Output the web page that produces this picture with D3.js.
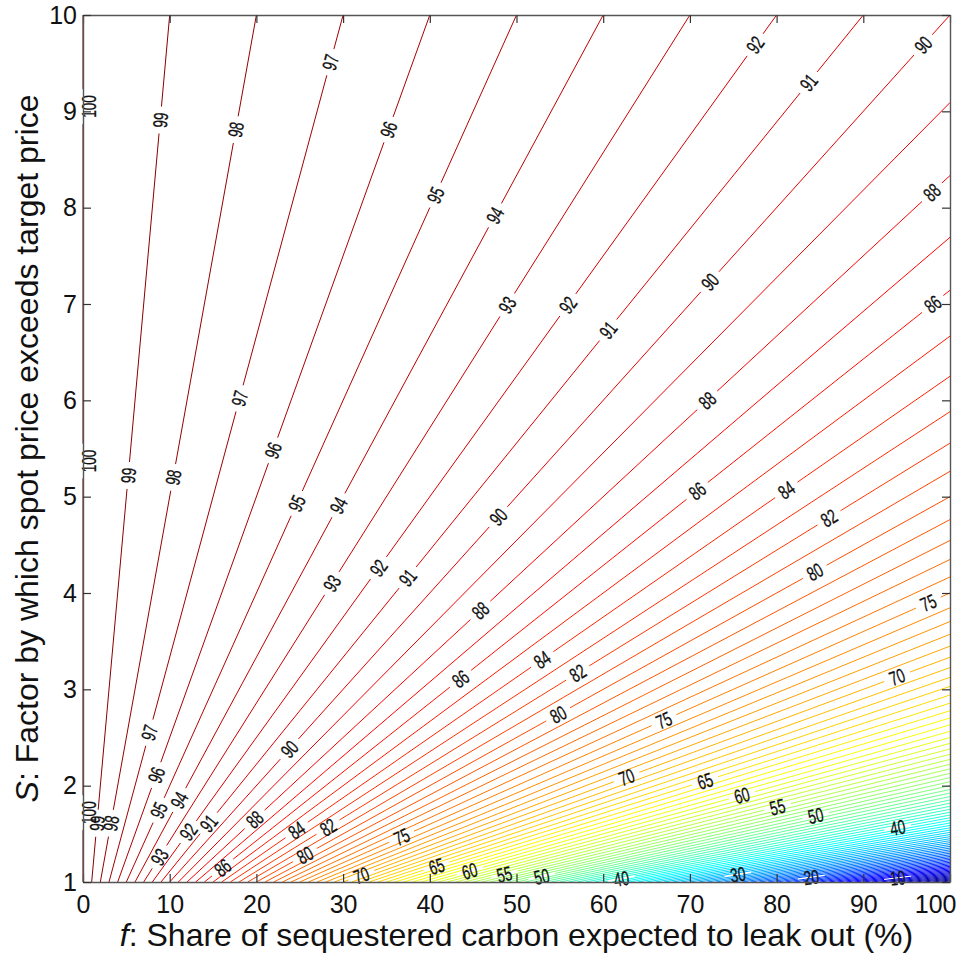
<!doctype html>
<html>
<head>
<meta charset="utf-8">
<script src="https://cdn.jsdelivr.net/npm/d3@7"></script>
<style>
body { margin: 0; background: #fff; }
.tick text { font-family: "Liberation Sans", Arial, sans-serif; font-size: 25px; fill: #111; }
.clabel { font-family: "Liberation Sans", Arial, sans-serif; font-size: 20px; fill: #111; stroke: #111; stroke-width: 0.3px; }
</style>
</head>
<body>
<svg width="961" height="957"></svg>
<script>
// contour levels: every integer from 1 to 100
var levels = d3.range(1, 101);

var xTicks = [0, 10, 20, 30, 40, 50, 60, 70, 80, 90, 100];
var yTicks = [1, 2, 3, 4, 5, 6, 7, 8, 9, 10];

// inline contour labels: [level, S where the label sits]
var contourLabels = [
  [100, 9.05], [100, 5.37], [100, 1.72],
  [99, 8.91], [99, 5.22], [99, 1.61],
  [98, 8.81], [98, 5.20], [98, 1.61],
  [97, 9.51], [97, 6.02], [97, 2.55],
  [96, 8.81], [96, 5.48], [96, 2.11],
  [95, 8.13], [95, 4.93], [95, 1.745],
  [94, 7.92], [94, 4.91], [94, 1.85],
  [93, 6.99], [93, 4.10], [93, 1.26],
  [92, 9.69], [92, 6.99], [92, 4.26], [92, 1.52],
  [91, 9.30], [91, 6.73], [91, 4.16], [91, 1.61],
  [90, 9.69], [90, 7.23], [90, 4.79], [90, 2.38],
  [88, 8.16], [88, 6.00], [88, 3.82], [88, 1.65],
  [86, 7.00], [86, 5.06], [86, 3.11], [86, 1.15],
  [84, 5.07], [84, 3.31], [84, 1.54],
  [82, 4.78], [82, 3.17], [82, 1.57],
  [80, 4.22], [80, 2.74], [80, 1.28],
  [75, 3.90], [75, 2.68], [75, 1.47],
  [70, 3.13], [70, 2.09], [70, 1.07],
  [65, 2.05], [65, 1.165],
  [60, 1.90], [60, 1.115],
  [55, 1.78], [55, 1.08],
  [50, 1.69], [50, 1.058],
  [40, 1.566], [40, 1.035],
  [30, 1.079],
  [20, 1.05],
  [10, 1.044]
];

var svg = d3.select("svg"),
    margin = {left: 83, top: 15},
    width = 867,
    height = 867;

var xScale = d3.scaleLinear().domain([0, 100]).range([0, width]),
    yScale = d3.scaleLinear().domain([1, 10]).range([height, 0]);

// matlab jet
var jet = d3.scaleLinear()
    .domain([0, 12.5, 37.5, 62.5, 87.5, 100])
    .range(["#00007f", "#0000ff", "#00ffff", "#ffff00", "#ff0000", "#7f0000"]);

var g = svg.append("g")
    .attr("transform", "translate(" + margin.left + "," + margin.top + ")");

var lineG = g.append("g");
var labelG = g.append("g");

var sx = 0.68, charW = 20 * 0.556 * sx, pad = 6;

// the contour of level L is the straight line f = (100 - L) * S
levels.forEach(function(L) {
  var k = 100 - L;
  var a = [k, 1],
      b = [Math.min(100, 10 * k), Math.min(10, 100 / k)];
  var p0 = [xScale(a[0]), yScale(a[1])],
      p1 = [xScale(b[0]), yScale(b[1])];
  var dx = p1[0] - p0[0], dy = p1[1] - p0[1], len = Math.hypot(dx, dy);
  var ux = dx / len, uy = dy / len;
  var angle = Math.atan2(dy, dx) * 180 / Math.PI;

  var gaps = [];
  contourLabels.filter(function(d) { return d[0] === L; }).forEach(function(d) {
    var px = xScale(k * d[1]), py = yScale(d[1]);
    var t = (px - p0[0]) * ux + (py - p0[1]) * uy;
    var half = String(L).length * charW / 2 + pad;
    gaps.push([t - half, t + half]);
    var lx = Math.max(px, 6);
    labelG.append("text")
      .attr("class", "clabel")
      .attr("text-anchor", "middle")
      .attr("dy", "0.36em")
      .attr("transform", "translate(" + lx + "," + py + ") rotate(" + angle + ") scale(" + sx + ",1)")
      .text(L);
  });
  gaps.sort(function(u, v) { return u[0] - v[0]; });

  var segs = [], start = 0;
  gaps.forEach(function(gp) {
    if (gp[0] > start) segs.push([start, gp[0]]);
    start = Math.max(start, gp[1]);
  });
  if (start < len) segs.push([start, len]);

  segs.forEach(function(s) {
    lineG.append("line")
      .attr("x1", p0[0] + ux * s[0]).attr("y1", p0[1] + uy * s[0])
      .attr("x2", p0[0] + ux * s[1]).attr("y2", p0[1] + uy * s[1])
      .attr("stroke", jet(L))
      .attr("stroke-width", 1);
  });
});

// axes, ticks inward on all four sides
var frame = "#555";
function styleAxis(sel) {
  sel.select(".domain").attr("stroke", frame).attr("stroke-width", 1.4);
  sel.selectAll(".tick line").attr("stroke", "#333").attr("stroke-width", 1.2);
}

var xAxisG = g.append("g")
  .attr("transform", "translate(0," + height + ")")
  .call(d3.axisBottom(xScale).tickValues(xTicks).tickSize(-8).tickSizeOuter(0).tickPadding(13))
  .call(styleAxis);

// last label pulled in so it stays on the page
xAxisG.selectAll(".tick text")
  .filter(function(d) { return d === 100; })
  .attr("text-anchor", "end")
  .attr("x", 956 - margin.left - width);

g.append("g")
  .call(d3.axisTop(xScale).tickValues(xTicks).tickSize(-8).tickSizeOuter(0).tickFormat(""))
  .call(styleAxis);

g.append("g")
  .call(d3.axisLeft(yScale).tickValues(yTicks).tickSize(-8).tickSizeOuter(0).tickPadding(6))
  .call(styleAxis);

g.append("g")
  .attr("transform", "translate(" + width + ",0)")
  .call(d3.axisRight(yScale).tickValues(yTicks).tickSize(-8).tickSizeOuter(0).tickFormat(""))
  .call(styleAxis);

svg.selectAll(".tick text").attr("font-family", null).attr("font-size", null);

// X label
var xl = svg.append("text")
  .attr("x", margin.left + width / 2)
  .attr("y", 946)
  .attr("text-anchor", "middle")
  .style("font-family", "Liberation Sans, Arial, sans-serif")
  .style("font-size", "32px")
  .style("fill", "#111");
xl.append("tspan").style("font-style", "italic").text("f");
xl.append("tspan").text(": Share of sequestered carbon expected to leak out (%)");

// Y label
var yl = svg.append("text")
  .attr("text-anchor", "middle")
  .attr("transform", "translate(38," + (margin.top + height / 2) + ")rotate(-90)")
  .style("font-family", "Liberation Sans, Arial, sans-serif")
  .style("font-size", "32px")
  .style("fill", "#111");
yl.append("tspan").style("font-style", "italic").text("S");
yl.append("tspan").text(": Factor by which spot price exceeds target price");
</script>
</body>
</html>
